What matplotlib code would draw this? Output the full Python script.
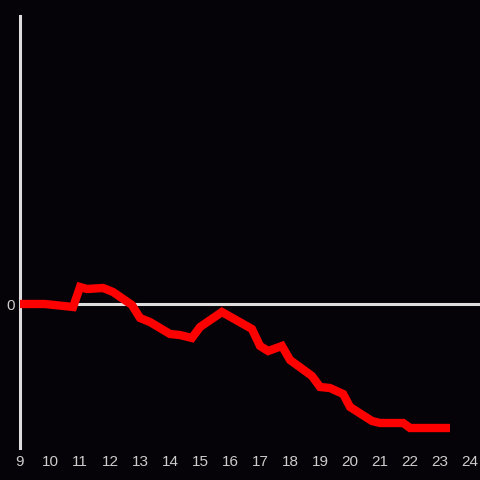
import matplotlib
matplotlib.use("Agg")
import matplotlib.pyplot as plt

x_vals = [9.0, 9.83, 10.77, 11.0, 11.23, 11.77, 12.1, 12.73, 13.0, 13.33, 14.0, 14.33,
          14.73, 15.0, 15.73, 16.73, 17.0, 17.27, 17.73, 18.0, 18.73, 19.0, 19.33, 19.77,
          20.0, 20.73, 21.0, 21.77, 22.0, 23.33]
y_vals = [0, 0, -3, 17, 15, 16, 12, -1, -14, -18, -30, -31,
          -34, -23, -8, -25, -42, -47, -42, -56, -72, -83, -84, -90,
          -103, -117, -119, -119, -124, -124]
x_ticks = list(range(9, 25))
y_ticks = [0]

bg = "#050307"
fig = plt.figure(figsize=(4.8, 4.8), dpi=100, facecolor=bg)
ax = fig.add_axes([20/480, 32/480, 460/480, 432/480], facecolor=bg)

ax.axhline(0, color="#dddddd", lw=2.2, zorder=1)
ax.plot(x_vals, y_vals, color="#ff0000", lw=6, solid_joinstyle="miter", solid_capstyle="butt", zorder=3)

ax.set_xlim(9, 24.33)
ax.set_ylim(-144, 288)
for s in ["top", "right", "bottom"]:
    ax.spines[s].set_visible(False)
ax.spines["left"].set_color("#dddddd")
ax.spines["left"].set_linewidth(2.2)

ax.set_xticks(x_ticks)
ax.set_xticklabels([str(t) for t in x_ticks])
ax.set_yticks(y_ticks)
ax.set_yticklabels(["0"])
ax.tick_params(length=0, colors="#cccccc", labelsize=11, pad=4)
ax.tick_params(axis="x", pad=5)
for lab in ax.get_xticklabels() + ax.get_yticklabels():
    lab.set_family("Liberation Sans")
    lab.set_color("#cccccc")

fig.savefig("out.png", dpi=100, facecolor=bg)
